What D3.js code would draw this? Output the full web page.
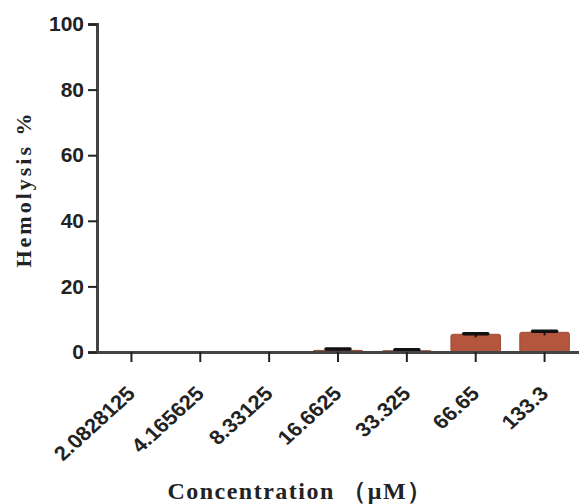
<!DOCTYPE html>
<html>
<head>
<meta charset="utf-8">
<script src="https://cdn.jsdelivr.net/npm/d3@7"></script>
<style>
  body { margin: 0; background: #fff; }
  svg { display: block; }
</style>
</head>
<body>
<svg id="chart" width="579" height="504"></svg>
<script>
// concentrations (µM) and hemolysis means / SD
const concentrations = ['2.0828125', '4.165625', '8.33125', '16.6625', '33.325', '66.65', '133.3'];
const hemolysis = [0, 0, 0, 0.5, 0.4, 5.4, 6.0];
const errors = [0, 0, 0, 0.4, 0.3, 0.2, 0.3];
const yTicks = [0, 20, 40, 60, 80, 100];

const data = concentrations.map((c, i) => ({ label: c, value: hemolysis[i], err: errors[i] }));

const svg = d3.select('#chart');
const margin = { top: 24, right: 0, bottom: 152, left: 97 };
const width = 579 - margin.left - margin.right;
const height = 504 - margin.top - margin.bottom;

const g = svg.append('g')
    .attr('transform', 'translate(' + margin.left + ',' + margin.top + ')');

const x = d3.scaleBand()
    .domain(concentrations)
    .range([0, width])
    .paddingInner(0.28)
    .paddingOuter(0.14);

const y = d3.scaleLinear()
    .domain([0, 100])
    .range([height, 0]);

// bars
g.selectAll('.bar')
    .data(data)
    .enter().append('rect')
    .attr('class', 'bar')
    .attr('x', d => x(d.label))
    .attr('y', d => y(d.value))
    .attr('width', x.bandwidth())
    .attr('height', d => height - y(d.value))
    .attr('rx', 2)
    .attr('fill', '#b4553d')
    .attr('stroke', '#a04a36')
    .attr('stroke-width', 1);

// error bars
const eb = g.selectAll('.err')
    .data(data.filter(d => d.err > 0))
    .enter().append('g')
    .attr('class', 'err');

eb.append('line')
    .attr('x1', d => x(d.label) + x.bandwidth() / 2)
    .attr('x2', d => x(d.label) + x.bandwidth() / 2)
    .attr('y1', d => y(d.value) + 3)
    .attr('y2', d => y(d.value + d.err))
    .attr('stroke', '#111')
    .attr('stroke-width', 2);

eb.append('line')
    .attr('x1', d => x(d.label) + x.bandwidth() / 2 - 12)
    .attr('x2', d => x(d.label) + x.bandwidth() / 2 + 12)
    .attr('y1', d => y(d.value + d.err))
    .attr('y2', d => y(d.value + d.err))
    .attr('stroke', '#111')
    .attr('stroke-width', 3.5)
    .attr('stroke-linecap', 'round');

// y axis
const yAxis = g.append('g')
    .call(d3.axisLeft(y).tickValues(yTicks).tickSize(9).tickPadding(4));
yAxis.select('.domain').attr('stroke', '#444').attr('stroke-width', 3);
yAxis.selectAll('.tick line').attr('stroke', '#222').attr('stroke-width', 2);
yAxis.selectAll('.tick text')
    .attr('fill', '#222')
    .style('font-family', 'Arial, "Liberation Sans", sans-serif')
    .style('font-weight', 'bold')
    .style('font-size', '21px');

// x axis
const xAxis = g.append('g')
    .attr('transform', 'translate(0,' + height + ')')
    .call(d3.axisBottom(x).tickSize(10).tickSizeOuter(0));
xAxis.select('.domain').attr('stroke', '#444').attr('stroke-width', 3);
xAxis.selectAll('.tick line').attr('stroke', '#222').attr('stroke-width', 2);
xAxis.selectAll('.tick text')
    .attr('fill', '#222')
    .style('font-family', 'Arial, "Liberation Sans", sans-serif')
    .style('font-weight', 'bold')
    .style('font-size', '20px')
    .attr('text-anchor', 'end')
    .attr('y', 0)
    .attr('dy', '0')
    .attr('transform', 'translate(5,43) scale(1.1,1) rotate(-45)');

// axis titles
svg.append('text')
    .attr('transform', 'translate(31,189) rotate(-90)')
    .attr('text-anchor', 'middle')
    .style('font-family', '"Times New Roman", "Liberation Serif", serif')
    .style('font-weight', 'bold')
    .style('font-size', '22px')
    .style('letter-spacing', '3px')
    .attr('fill', '#222')
    .text('Hemolysis %');

svg.append('text')
    .attr('x', 300)
    .attr('y', 499)
    .attr('text-anchor', 'middle')
    .style('font-family', '"Times New Roman", "Liberation Serif", serif')
    .style('font-weight', 'bold')
    .style('font-size', '24px')
    .style('letter-spacing', '1.5px')
    .attr('fill', '#222')
    .text('Concentration （μM）');
</script>
</body>
</html>
